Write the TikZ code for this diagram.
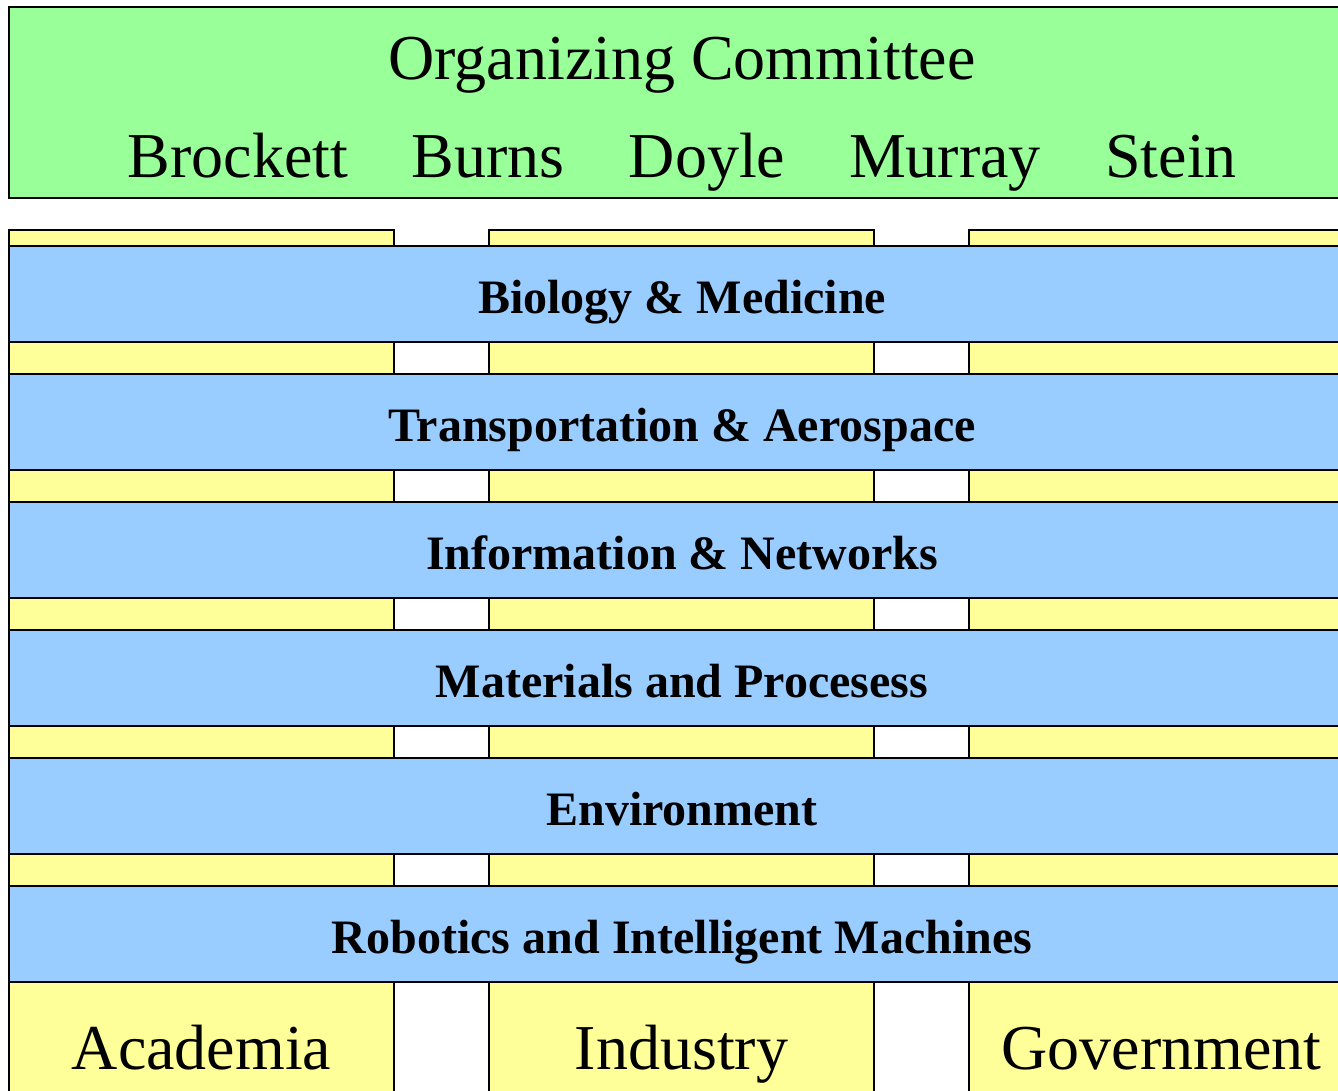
\documentclass[tikz,border=0pt]{standalone}
\usepackage{fontspec}
\setmainfont{Liberation Serif}
\definecolor{cgreen}{HTML}{99FF99}
\definecolor{cyellow}{HTML}{FFFF99}
\definecolor{cblue}{HTML}{99CCFF}
\begin{document}
\begin{tikzpicture}[x=1pt,y=-1pt,
  box/.style={draw=black,line width=2pt,rectangle,inner sep=0pt,outer sep=0pt},
  column/.style={box,fill=cyellow,minimum width=385pt,minimum height=880pt},
  band/.style={box,fill=cblue,minimum width=1345pt,minimum height=96pt},
  bandtext/.style={anchor=base,inner sep=0pt,font=\fontsize{48}{56}\selectfont\bfseries},
  bigtext/.style={anchor=base,inner sep=0pt,font=\fontsize{64}{72}\selectfont}]
\useasboundingbox (0,0) rectangle (1338,1091);
\clip (0,0) rectangle (1338,1091);
\fill[white] (0,0) rectangle (1338,1091);
% committee
\node[box,fill=cgreen,minimum width=1345pt,minimum height=191pt] (comm) at (681.5,102.5) {};
\node[bigtext] (title) at (682,80) {Organizing Committee};
\node[bigtext] (brockett) at (238,178) {Brockett};
\node[bigtext] (burns) at (488,178) {Burns};
\node[bigtext] (doyle) at (707,178) {Doyle};
\node[bigtext] (murray) at (945,178) {Murray};
\node[bigtext] (stein) at (1171,178) {Stein};
% columns
\node[column] (acad) at (201.5,670) {};
\node[column] (ind) at (681.5,670) {};
\node[column] (gov) at (1161.5,670) {};
\node[bigtext] (acadt) at (201.5,1069) {Academia};
\node[bigtext] (indt) at (681.5,1069) {Industry};
\node[bigtext] (govt) at (1161.5,1069) {Government};
% bands
\foreach \c/\t [count=\i] in {294/Biology \& Medicine,422/Transportation \& Aerospace,550/Information \& Networks,678/Materials and Procesess,806/Environment,934/Robotics and Intelligent Machines}{
  \node[band] (band\i) at (681.5,\c) {};
  \node[bandtext] (bandt\i) at (682,\c+19) {\t};
}
\end{tikzpicture}
\end{document}
